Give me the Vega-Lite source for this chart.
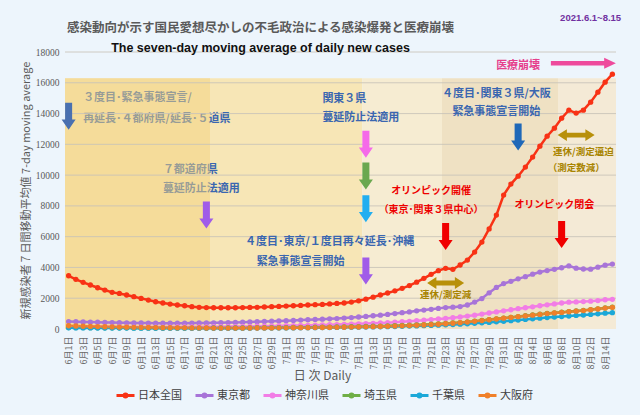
{
  "$schema": "https://vega.github.io/schema/vega-lite/v6.json",
  "width": 551,
  "height": 277,
  "autosize": {"type": "none"},
  "padding": {"left": 65, "top": 52, "right": 24, "bottom": 86},
  "background": "#edf5fc",
  "title": {
    "text": "感染動向が示す国民愛想尽かしの不毛政治による感染爆発と医療崩壊",
    "subtitle": "The seven-day moving average of daily new cases",
    "anchor": "middle",
    "frame": "group",
    "dx": -80,
    "offset": -41,
    "font": "Noto Sans CJK JP",
    "fontSize": 12.5,
    "fontWeight": "bold",
    "color": "#5a5a5a",
    "subtitleFont": "Liberation Sans, Arial",
    "subtitleFontSize": 12.5,
    "subtitleFontWeight": "bold",
    "subtitleColor": "#111111",
    "subtitlePadding": 7
  },
  "config": {
    "view": {"stroke": null},
    "font": "Noto Sans CJK JP",
    "numberFormat": "d",
    "axis": {"domain": false, "ticks": false, "grid": false, "labelOverlap": false, "labelBound": false, "labelFlush": false}
  },
  "datasets": {
    "bands": [
      {"d": "2021-05-31T12:00:00Z", "e": "2021-06-20T12:00:00Z", "v": 16300, "k": "3度目宣言期間"},
      {"d": "2021-06-20T12:00:00Z", "e": "2021-07-11T12:00:00Z", "v": 16300, "k": "重点措置期間"},
      {"d": "2021-07-11T12:00:00Z", "e": "2021-07-22T12:00:00Z", "v": 16300, "k": "移行期間"},
      {"d": "2021-07-22T12:00:00Z", "e": "2021-08-07T12:00:00Z", "v": 16300, "k": "五輪期間"},
      {"d": "2021-08-07T12:00:00Z", "e": "2021-08-15T12:00:00Z", "v": 16300, "k": "閉会後"}
    ],
    "overlay": [
      {"d": "2021-05-31T12:00:00Z", "e": "2021-06-20T12:00:00Z", "v": 16300}
    ],
    "grid": [
      {"d": "2021-05-31T12:00:00Z", "e": "2021-08-15T12:00:00Z", "v": 2000},
      {"d": "2021-05-31T12:00:00Z", "e": "2021-08-15T12:00:00Z", "v": 4000},
      {"d": "2021-05-31T12:00:00Z", "e": "2021-08-15T12:00:00Z", "v": 6000},
      {"d": "2021-05-31T12:00:00Z", "e": "2021-08-15T12:00:00Z", "v": 8000},
      {"d": "2021-05-31T12:00:00Z", "e": "2021-08-15T12:00:00Z", "v": 10000},
      {"d": "2021-05-31T12:00:00Z", "e": "2021-08-15T12:00:00Z", "v": 12000},
      {"d": "2021-05-31T12:00:00Z", "e": "2021-08-15T12:00:00Z", "v": 14000},
      {"d": "2021-05-31T12:00:00Z", "e": "2021-08-15T12:00:00Z", "v": 16000},
      {"d": "2021-05-31T12:00:00Z", "e": "2021-08-15T12:00:00Z", "v": 18000}
    ],
    "series": [
      {"d": "2021-06-01", "日本全国": 3460, "東京都": 480, "神奈川県": 170, "埼玉県": 95, "千葉県": 75, "大阪府": 210},
      {"d": "2021-06-02", "日本全国": 3230, "東京都": 470, "神奈川県": 165, "埼玉県": 92, "千葉県": 72, "大阪府": 195},
      {"d": "2021-06-03", "日本全国": 3030, "東京都": 460, "神奈川県": 160, "埼玉県": 90, "千葉県": 70, "大阪府": 180},
      {"d": "2021-06-04", "日本全国": 2860, "東京都": 450, "神奈川県": 155, "埼玉県": 88, "千葉県": 68, "大阪府": 168},
      {"d": "2021-06-05", "日本全国": 2680, "東京都": 440, "神奈川県": 150, "埼玉県": 85, "千葉県": 66, "大阪府": 155},
      {"d": "2021-06-06", "日本全国": 2530, "東京都": 430, "神奈川県": 145, "埼玉県": 82, "千葉県": 64, "大阪府": 145},
      {"d": "2021-06-07", "日本全国": 2380, "東京都": 420, "神奈川県": 140, "埼玉県": 80, "千葉県": 62, "大阪府": 135},
      {"d": "2021-06-08", "日本全国": 2310, "東京都": 410, "神奈川県": 135, "埼玉県": 78, "千葉県": 60, "大阪府": 125},
      {"d": "2021-06-09", "日本全国": 2210, "東京都": 400, "神奈川県": 130, "埼玉県": 75, "千葉県": 58, "大阪府": 117},
      {"d": "2021-06-10", "日本全国": 2100, "東京都": 395, "神奈川県": 128, "埼玉県": 72, "千葉県": 56, "大阪府": 110},
      {"d": "2021-06-11", "日本全国": 1990, "東京都": 390, "神奈川県": 125, "埼玉県": 70, "千葉県": 54, "大阪府": 103},
      {"d": "2021-06-12", "日本全国": 1880, "東京都": 385, "神奈川県": 125, "埼玉県": 68, "千葉県": 52, "大阪府": 97},
      {"d": "2021-06-13", "日本全国": 1770, "東京都": 380, "神奈川県": 125, "埼玉県": 66, "千葉県": 50, "大阪府": 92},
      {"d": "2021-06-14", "日本全国": 1690, "東京都": 375, "神奈川県": 125, "埼玉県": 64, "千葉県": 49, "大阪府": 87},
      {"d": "2021-06-15", "日本全国": 1620, "東京都": 375, "神奈川県": 128, "埼玉県": 62, "千葉県": 48, "大阪府": 82},
      {"d": "2021-06-16", "日本全国": 1560, "東京都": 380, "神奈川県": 130, "埼玉県": 60, "千葉県": 47, "大阪府": 78},
      {"d": "2021-06-17", "日本全国": 1510, "東京都": 380, "神奈川県": 132, "埼玉県": 60, "千葉県": 46, "大阪府": 74},
      {"d": "2021-06-18", "日本全国": 1450, "東京都": 385, "神奈川県": 135, "埼玉県": 60, "千葉県": 46, "大阪府": 70},
      {"d": "2021-06-19", "日本全国": 1410, "東京都": 390, "神奈川県": 138, "埼玉県": 60, "千葉県": 46, "大阪府": 67},
      {"d": "2021-06-20", "日本全国": 1390, "東京都": 395, "神奈川県": 140, "埼玉県": 62, "千葉県": 47, "大阪府": 64},
      {"d": "2021-06-21", "日本全国": 1380, "東京都": 400, "神奈川県": 145, "埼玉県": 64, "千葉県": 48, "大阪府": 62},
      {"d": "2021-06-22", "日本全国": 1380, "東京都": 410, "神奈川県": 150, "埼玉県": 66, "千葉県": 49, "大阪府": 60},
      {"d": "2021-06-23", "日本全国": 1380, "東京都": 420, "神奈川県": 155, "埼玉県": 68, "千葉県": 50, "大阪府": 60},
      {"d": "2021-06-24", "日本全国": 1380, "東京都": 430, "神奈川県": 160, "埼玉県": 70, "千葉県": 52, "大阪府": 60},
      {"d": "2021-06-25", "日本全国": 1390, "東京都": 445, "神奈川県": 165, "埼玉県": 73, "千葉県": 54, "大阪府": 62},
      {"d": "2021-06-26", "日本全国": 1400, "東京都": 460, "神奈川県": 170, "埼玉県": 76, "千葉県": 56, "大阪府": 64},
      {"d": "2021-06-27", "日本全国": 1410, "東京都": 475, "神奈川県": 178, "埼玉県": 80, "千葉県": 58, "大阪府": 66},
      {"d": "2021-06-28", "日本全国": 1430, "東京都": 490, "神奈川県": 185, "埼玉県": 84, "千葉県": 61, "大阪府": 68},
      {"d": "2021-06-29", "日本全国": 1450, "東京都": 505, "神奈川県": 192, "埼玉県": 88, "千葉県": 64, "大阪府": 71},
      {"d": "2021-06-30", "日本全国": 1470, "東京都": 520, "神奈川県": 200, "埼玉県": 92, "千葉県": 67, "大阪府": 74},
      {"d": "2021-07-01", "日本全国": 1490, "東京都": 540, "神奈川県": 210, "埼玉県": 96, "千葉県": 70, "大阪府": 77},
      {"d": "2021-07-02", "日本全国": 1510, "東京都": 560, "神奈川県": 220, "埼玉県": 100, "千葉県": 73, "大阪府": 80},
      {"d": "2021-07-03", "日本全国": 1530, "東京都": 580, "神奈川県": 230, "埼玉県": 105, "千葉県": 77, "大阪府": 84},
      {"d": "2021-07-04", "日本全国": 1560, "東京都": 600, "神奈川県": 240, "埼玉県": 110, "千葉県": 81, "大阪府": 88},
      {"d": "2021-07-05", "日本全国": 1580, "東京都": 620, "神奈川県": 250, "埼玉県": 116, "千葉県": 85, "大阪府": 92},
      {"d": "2021-07-06", "日本全国": 1600, "東京都": 640, "神奈川県": 262, "埼玉県": 122, "千葉県": 90, "大阪府": 97},
      {"d": "2021-07-07", "日本全国": 1630, "東京都": 660, "神奈川県": 275, "埼玉県": 128, "千葉県": 95, "大阪府": 102},
      {"d": "2021-07-08", "日本全国": 1660, "東京都": 680, "神奈川県": 290, "埼玉県": 135, "千葉県": 100, "大阪府": 108},
      {"d": "2021-07-09", "日本全国": 1690, "東京都": 710, "神奈川県": 305, "埼玉県": 142, "千葉県": 106, "大阪府": 115},
      {"d": "2021-07-10", "日本全国": 1750, "東京都": 740, "神奈川県": 320, "埼玉県": 150, "千葉県": 112, "大阪府": 122},
      {"d": "2021-07-11", "日本全国": 1830, "東京都": 780, "神奈川県": 335, "埼玉県": 160, "千葉県": 118, "大阪府": 130},
      {"d": "2021-07-12", "日本全国": 1940, "東京都": 820, "神奈川県": 350, "埼玉県": 170, "千葉県": 125, "大阪府": 140},
      {"d": "2021-07-13", "日本全国": 2070, "東京都": 860, "神奈川県": 370, "埼玉県": 180, "千葉県": 133, "大阪府": 150},
      {"d": "2021-07-14", "日本全国": 2210, "東京都": 900, "神奈川県": 390, "埼玉県": 192, "千葉県": 142, "大阪府": 162},
      {"d": "2021-07-15", "日本全国": 2340, "東京都": 950, "神奈川県": 410, "埼玉県": 205, "千葉県": 152, "大阪府": 175},
      {"d": "2021-07-16", "日本全国": 2480, "東京都": 1000, "神奈川県": 440, "埼玉県": 220, "千葉県": 163, "大阪府": 190},
      {"d": "2021-07-17", "日本全国": 2640, "東京都": 1060, "神奈川県": 470, "埼玉県": 235, "千葉県": 175, "大阪府": 205},
      {"d": "2021-07-18", "日本全国": 2820, "東京都": 1110, "神奈川県": 500, "埼玉県": 250, "千葉県": 188, "大阪府": 222},
      {"d": "2021-07-19", "日本全国": 3040, "東京都": 1180, "神奈川県": 535, "埼玉県": 270, "千葉県": 202, "大阪府": 240},
      {"d": "2021-07-20", "日本全国": 3290, "東京都": 1230, "神奈川県": 570, "埼玉県": 290, "千葉県": 217, "大阪府": 260},
      {"d": "2021-07-21", "日本全国": 3550, "東京都": 1280, "神奈川県": 610, "埼玉県": 310, "千葉県": 233, "大阪府": 285},
      {"d": "2021-07-22", "日本全国": 3790, "東京都": 1340, "神奈川県": 650, "埼玉県": 335, "千葉県": 250, "大阪府": 310},
      {"d": "2021-07-23", "日本全国": 3940, "東京都": 1390, "神奈川県": 690, "埼玉県": 360, "千葉県": 270, "大阪府": 340},
      {"d": "2021-07-24", "日本全国": 3880, "東京都": 1420, "神奈川県": 730, "埼玉県": 390, "千葉県": 292, "大阪府": 375},
      {"d": "2021-07-25", "日本全国": 4160, "東京都": 1460, "神奈川県": 780, "埼玉県": 420, "千葉県": 316, "大阪府": 410},
      {"d": "2021-07-26", "日本全国": 4480, "東京都": 1560, "神奈川県": 840, "埼玉県": 460, "千葉県": 342, "大阪府": 450},
      {"d": "2021-07-27", "日本全国": 5000, "東京都": 1750, "神奈川県": 900, "埼玉県": 510, "千葉県": 370, "大阪府": 500},
      {"d": "2021-07-28", "日本全国": 5650, "東京都": 1980, "神奈川県": 970, "埼玉県": 560, "千葉県": 400, "大阪府": 550},
      {"d": "2021-07-29", "日本全国": 6500, "東京都": 2350, "神奈川県": 1040, "埼玉県": 610, "千葉県": 430, "大阪府": 600},
      {"d": "2021-07-30", "日本全国": 7400, "東京都": 2700, "神奈川県": 1110, "埼玉県": 660, "千葉県": 465, "大阪府": 650},
      {"d": "2021-07-31", "日本全国": 8700, "東京都": 2950, "神奈川県": 1180, "埼玉県": 710, "千葉県": 500, "大阪府": 700},
      {"d": "2021-08-01", "日本全国": 9420, "東京都": 3100, "神奈川県": 1250, "埼玉県": 760, "千葉県": 540, "大阪府": 750},
      {"d": "2021-08-02", "日本全国": 9930, "東京都": 3260, "神奈川県": 1320, "埼玉県": 810, "千葉県": 580, "大阪府": 800},
      {"d": "2021-08-03", "日本全国": 10520, "東京都": 3400, "神奈川県": 1380, "埼玉県": 860, "千葉県": 620, "大阪府": 850},
      {"d": "2021-08-04", "日本全国": 11170, "東京都": 3560, "神奈川県": 1440, "埼玉県": 910, "千葉県": 660, "大阪府": 900},
      {"d": "2021-08-05", "日本全国": 11880, "東京都": 3700, "神奈川県": 1510, "埼玉県": 960, "千葉県": 700, "大阪府": 950},
      {"d": "2021-08-06", "日本全国": 12530, "東京都": 3800, "神奈川県": 1570, "埼玉県": 1010, "千葉県": 740, "大阪府": 1000},
      {"d": "2021-08-07", "日本全国": 13050, "東京都": 3880, "神奈川県": 1630, "埼玉県": 1050, "千葉県": 775, "大阪府": 1040},
      {"d": "2021-08-08", "日本全国": 13700, "東京都": 3980, "神奈川県": 1690, "埼玉県": 1090, "千葉県": 810, "大阪府": 1080},
      {"d": "2021-08-09", "日本全国": 14220, "東京都": 4100, "神奈川県": 1740, "埼玉県": 1130, "千葉県": 845, "大阪府": 1120},
      {"d": "2021-08-10", "日本全国": 14030, "東京都": 3950, "神奈川県": 1760, "埼玉県": 1170, "千葉県": 880, "大阪府": 1160},
      {"d": "2021-08-11", "日本全国": 14220, "東京都": 3900, "神奈川県": 1780, "埼玉県": 1210, "千葉県": 910, "大阪府": 1200},
      {"d": "2021-08-12", "日本全国": 14740, "東京都": 3890, "神奈川県": 1810, "埼玉県": 1260, "千葉県": 945, "大阪府": 1250},
      {"d": "2021-08-13", "日本全国": 15390, "東京都": 4020, "神奈川県": 1850, "埼玉県": 1310, "千葉県": 985, "大阪府": 1300},
      {"d": "2021-08-14", "日本全国": 16040, "東京都": 4150, "神奈川県": 1900, "埼玉県": 1370, "千葉県": 1025, "大阪府": 1360},
      {"d": "2021-08-15", "日本全国": 16560, "東京都": 4220, "神奈川県": 1930, "埼玉県": 1420, "千葉県": 1060, "大阪府": 1410}
    ],
    "notesLeft": [
      {"d": "2021-06-03", "v": 15000, "t": "３度目･緊急事態宣言/"},
      {"d": "2021-06-03", "v": 13640, "t": "再延長･４都府県/延長･５道県"},
      {"d": "2021-06-14", "v": 10320, "t": "７都道府県"},
      {"d": "2021-06-14", "v": 9090, "t": "蔓延防止法適用"}
    ],
    "notesLeft2": [
      {"d": "2021-07-06", "v": 14940, "t": "関東３県"},
      {"d": "2021-07-06", "v": 13700, "t": "蔓延防止法適用"}
    ],
    "notesCenter": [
      {"d": "2021-07-07", "v": 5630, "t": "４度目･東京/１度目再々延長･沖縄"},
      {"d": "2021-07-03", "v": 4370, "t": "緊急事態宣言開始"},
      {"d": "2021-07-30", "v": 15300, "t": "４度目･関東３県/大阪"},
      {"d": "2021-07-30", "v": 14070, "t": "緊急事態宣言開始"}
    ],
    "olympics": [
      {"d": "2021-07-21", "v": 8980, "t": "オリンピック開催"},
      {"d": "2021-07-21", "v": 7730, "t": "（東京･関東３県中心）"},
      {"d": "2021-08-07", "v": 8050, "t": "オリンピック閉会"}
    ],
    "measure": [
      {"d": "2021-08-11", "v": 11510, "t": "連休/測定逼迫"},
      {"d": "2021-08-10", "v": 10450, "t": "（測定数減）"},
      {"d": "2021-07-23", "v": 2210, "t": "連休/測定減"}
    ],
    "collapse": [
      {"d": "2021-08-02", "v": 17100, "t": "医療崩壊"}
    ],
    "period": [
      {"d": "2021-08-12", "v": 20190, "t": "2021.6.1~8.15"}
    ],
    "arrows": [
      {"d": "2021-06-01", "v": 13830, "k": "3度目宣言延長"},
      {"d": "2021-06-20", "v": 7400, "k": "7都道府県蔓延防止"},
      {"d": "2021-07-12", "v": 12010, "k": "神奈川県"},
      {"d": "2021-07-12", "v": 9940, "k": "埼玉県"},
      {"d": "2021-07-12", "v": 7820, "k": "千葉県"},
      {"d": "2021-07-12", "v": 3770, "k": "東京都"},
      {"d": "2021-07-23", "v": 6010, "k": "五輪開催"},
      {"d": "2021-08-08", "v": 6140, "k": "五輪閉会"},
      {"d": "2021-08-02", "v": 12470, "k": "4度目宣言拡大"}
    ],
    "twoWay": [
      {"d": "2021-07-23", "v": 2990},
      {"d": "2021-08-10", "v": 12600}
    ],
    "collapseArrow": [
      {"d": "2021-08-11", "v": 17270}
    ]
  },
  "encoding": {
    "x": {"field": "d", "type": "temporal",
      "scale": {"type": "utc", "domain": [{"year": 2021, "month": 5, "date": 31, "hours": 12, "utc": true}, {"year": 2021, "month": 8, "date": 15, "hours": 12, "utc": true}]},
      "axis": {
        "values": [
          {"year": 2021, "month": 6, "date": 1, "utc": true}, {"year": 2021, "month": 6, "date": 3, "utc": true}, {"year": 2021, "month": 6, "date": 5, "utc": true}, {"year": 2021, "month": 6, "date": 7, "utc": true}, {"year": 2021, "month": 6, "date": 9, "utc": true},
          {"year": 2021, "month": 6, "date": 11, "utc": true}, {"year": 2021, "month": 6, "date": 13, "utc": true}, {"year": 2021, "month": 6, "date": 15, "utc": true}, {"year": 2021, "month": 6, "date": 17, "utc": true}, {"year": 2021, "month": 6, "date": 19, "utc": true},
          {"year": 2021, "month": 6, "date": 21, "utc": true}, {"year": 2021, "month": 6, "date": 23, "utc": true}, {"year": 2021, "month": 6, "date": 25, "utc": true}, {"year": 2021, "month": 6, "date": 27, "utc": true}, {"year": 2021, "month": 6, "date": 29, "utc": true},
          {"year": 2021, "month": 7, "date": 1, "utc": true}, {"year": 2021, "month": 7, "date": 3, "utc": true}, {"year": 2021, "month": 7, "date": 5, "utc": true}, {"year": 2021, "month": 7, "date": 7, "utc": true}, {"year": 2021, "month": 7, "date": 9, "utc": true},
          {"year": 2021, "month": 7, "date": 11, "utc": true}, {"year": 2021, "month": 7, "date": 13, "utc": true}, {"year": 2021, "month": 7, "date": 15, "utc": true}, {"year": 2021, "month": 7, "date": 17, "utc": true}, {"year": 2021, "month": 7, "date": 19, "utc": true},
          {"year": 2021, "month": 7, "date": 21, "utc": true}, {"year": 2021, "month": 7, "date": 23, "utc": true}, {"year": 2021, "month": 7, "date": 25, "utc": true}, {"year": 2021, "month": 7, "date": 27, "utc": true}, {"year": 2021, "month": 7, "date": 29, "utc": true},
          {"year": 2021, "month": 7, "date": 31, "utc": true}, {"year": 2021, "month": 8, "date": 2, "utc": true}, {"year": 2021, "month": 8, "date": 4, "utc": true}, {"year": 2021, "month": 8, "date": 6, "utc": true}, {"year": 2021, "month": 8, "date": 8, "utc": true},
          {"year": 2021, "month": 8, "date": 10, "utc": true}, {"year": 2021, "month": 8, "date": 12, "utc": true}, {"year": 2021, "month": 8, "date": 14, "utc": true}
        ],
        "labelExpr": "utcFormat(datum.value, '%-m月%-d日')",
        "labelAngle": 270,
        "labelFont": "Noto Sans CJK JP",
        "labelFontSize": 9,
        "labelColor": "#6a6a6a",
        "labelPadding": 7,
        "labelOverlap": false,
        "labelBound": false,
        "grid": false,
        "title": "日 次  Daily",
        "titleFont": "Noto Sans CJK JP",
        "titleFontSize": 12,
        "titleFontWeight": "normal",
        "titleColor": "#595959",
        "titleX": 257,
        "titleY": 46,
        "titleAlign": "center",
        "titleBaseline": "middle"
      }
    },
    "y": {"field": "v", "type": "quantitative",
      "scale": {"domain": [0, 18000], "nice": false},
      "axis": {
        "values": [0, 2000, 4000, 6000, 8000, 10000, 12000, 14000, 16000, 18000],
        "format": "d",
        "labelFont": "Liberation Serif",
        "labelFontSize": 9.5,
        "labelColor": "#595959",
        "labelPadding": 6,
        "labelOverlap": false,
        "grid": false,
        "title": "新規感染者７日間移動平均値  7-day moving average",
        "titleFont": "Noto Sans CJK JP",
        "titleFontSize": 11,
        "titleFontWeight": "normal",
        "titleColor": "#595959",
        "titleX": -39,
        "titleY": 138,
        "titleAngle": 270,
        "titleAlign": "center",
        "titleBaseline": "middle"
      }
    }
  },
  "layer": [
    {
      "data": {"name": "bands"},
      "mark": {"type": "rect"},
      "encoding": {
        "x2": {"field": "e"},
        "y2": {"datum": 0},
        "fill": {"field": "k", "type": "nominal", "legend": null,
          "scale": {"domain": ["3度目宣言期間", "重点措置期間", "移行期間", "五輪期間", "閉会後", "3度目宣言延長", "7都道府県蔓延防止", "神奈川県", "埼玉県", "千葉県", "東京都", "五輪開催", "五輪閉会", "4度目宣言拡大"],
                    "range": ["#f7e6b6", "#f7e6b6", "#f6ecd2", "#efe1c3", "#f4ead6", "#4a70b0", "#a05ce8", "#f56ae8", "#6aa84f", "#22aef0", "#a05ce8", "#f00000", "#f00000", "#1f68b8"]}}
      }
    },
    {
      "data": {"name": "notesLeft"},
      "mark": {"type": "text", "align": "left", "baseline": "middle", "font": "Noto Sans CJK JP", "fontSize": 11, "fontWeight": "bold", "color": "#3a66b0"},
      "encoding": {"text": {"field": "t"}}
    },
    {
      "data": {"name": "overlay"},
      "mark": {"type": "rect", "color": "#f3d27e", "opacity": 0.5},
      "encoding": {"x2": {"field": "e"}, "y2": {"datum": 0}}
    },
    {
      "data": {"name": "grid"},
      "mark": {"type": "rule", "color": "#c8c3b8", "strokeWidth": 1, "opacity": 0.85},
      "encoding": {"x2": {"field": "e"}}
    },
    {
      "data": {"name": "series"},
      "transform": [{"fold": ["日本全国", "東京都", "神奈川県", "埼玉県", "千葉県", "大阪府"], "as": ["key", "v"]}],
      "mark": {"type": "line", "strokeWidth": 2.5, "point": {"filled": true, "size": 28}},
      "encoding": {
        "color": {"field": "key", "type": "nominal",
          "scale": {"domain": ["日本全国", "東京都", "神奈川県", "埼玉県", "千葉県", "大阪府"],
                    "range": ["#f83215", "#a874d8", "#f27de6", "#6fae46", "#1ba8d8", "#f0802a"]},
          "legend": {
            "orient": "none",
            "legendX": 50,
            "legendY": 333,
            "direction": "horizontal",
            "title": null,
            "symbolType": "M-1,0L1,0M0.16,0A0.16,0.16 0 1 1 -0.16,0A0.16,0.16 0 1 1 0.16,0",
            "symbolSize": 324,
            "symbolStrokeWidth": 3,
            "labelFont": "Noto Sans CJK JP",
            "labelFontSize": 11,
            "labelColor": "#404040",
            "labelOffset": 2,
            "columnPadding": 7
          }
        }
      }
    },
    {
      "data": {"name": "notesLeft2"},
      "mark": {"type": "text", "align": "left", "baseline": "middle", "font": "Noto Sans CJK JP", "fontSize": 11, "fontWeight": "bold", "color": "#3a66b0"},
      "encoding": {"text": {"field": "t"}}
    },
    {
      "data": {"name": "notesCenter"},
      "mark": {"type": "text", "align": "center", "baseline": "middle", "font": "Noto Sans CJK JP", "fontSize": 11, "fontWeight": "bold", "color": "#3a66b0"},
      "encoding": {"text": {"field": "t"}}
    },
    {
      "data": {"name": "olympics"},
      "mark": {"type": "text", "align": "center", "baseline": "middle", "font": "Noto Sans CJK JP", "fontSize": 10, "fontWeight": "bold", "color": "#ee0000"},
      "encoding": {"text": {"field": "t"}}
    },
    {
      "data": {"name": "measure"},
      "mark": {"type": "text", "align": "center", "baseline": "middle", "font": "Noto Sans CJK JP", "fontSize": 9.5, "fontWeight": "bold", "color": "#a88400"},
      "encoding": {"text": {"field": "t"}}
    },
    {
      "data": {"name": "collapse"},
      "mark": {"type": "text", "align": "center", "baseline": "middle", "font": "Noto Sans CJK JP", "fontSize": 11, "fontWeight": "bold", "color": "#e6408c"},
      "encoding": {"text": {"field": "t"}}
    },
    {
      "data": {"name": "period"},
      "mark": {"type": "text", "align": "center", "baseline": "middle", "font": "Liberation Sans, Arial", "fontSize": 9.5, "fontWeight": "bold", "color": "#7030a0"},
      "encoding": {"text": {"field": "t"}}
    },
    {
      "data": {"name": "arrows"},
      "mark": {"type": "point", "filled": true, "opacity": 1, "strokeWidth": 0, "size": 729,
        "shape": "M-0.26,-1L0.26,-1L0.26,0.25L0.52,0.25L0,1L-0.52,0.25L-0.26,0.25Z"},
      "encoding": {
        "fill": {"field": "k", "type": "nominal", "legend": null,
          "scale": {"domain": ["3度目宣言期間", "重点措置期間", "移行期間", "五輪期間", "閉会後", "3度目宣言延長", "7都道府県蔓延防止", "神奈川県", "埼玉県", "千葉県", "東京都", "五輪開催", "五輪閉会", "4度目宣言拡大"],
                    "range": ["#f7e6b6", "#f7e6b6", "#f6ecd2", "#efe1c3", "#f4ead6", "#4a70b0", "#a05ce8", "#f56ae8", "#6aa84f", "#22aef0", "#a05ce8", "#f00000", "#f00000", "#1f68b8"]}}
      }
    },
    {
      "data": {"name": "twoWay"},
      "mark": {"type": "point", "filled": true, "opacity": 1, "strokeWidth": 0, "size": 1369, "color": "#b8900a",
        "shape": "M-1,0L-0.5,-0.32L-0.5,-0.13L0.5,-0.13L0.5,-0.32L1,0L0.5,0.32L0.5,0.13L-0.5,0.13L-0.5,0.32Z"}
    },
    {
      "data": {"name": "collapseArrow"},
      "mark": {"type": "point", "filled": true, "opacity": 1, "strokeWidth": 0, "size": 4225, "color": "#ee4a9c",
        "shape": "M-1,-0.07L0.64,-0.07L0.64,-0.17L1,0L0.64,0.17L0.64,0.07L-1,0.07Z"}
    }
  ]
}
